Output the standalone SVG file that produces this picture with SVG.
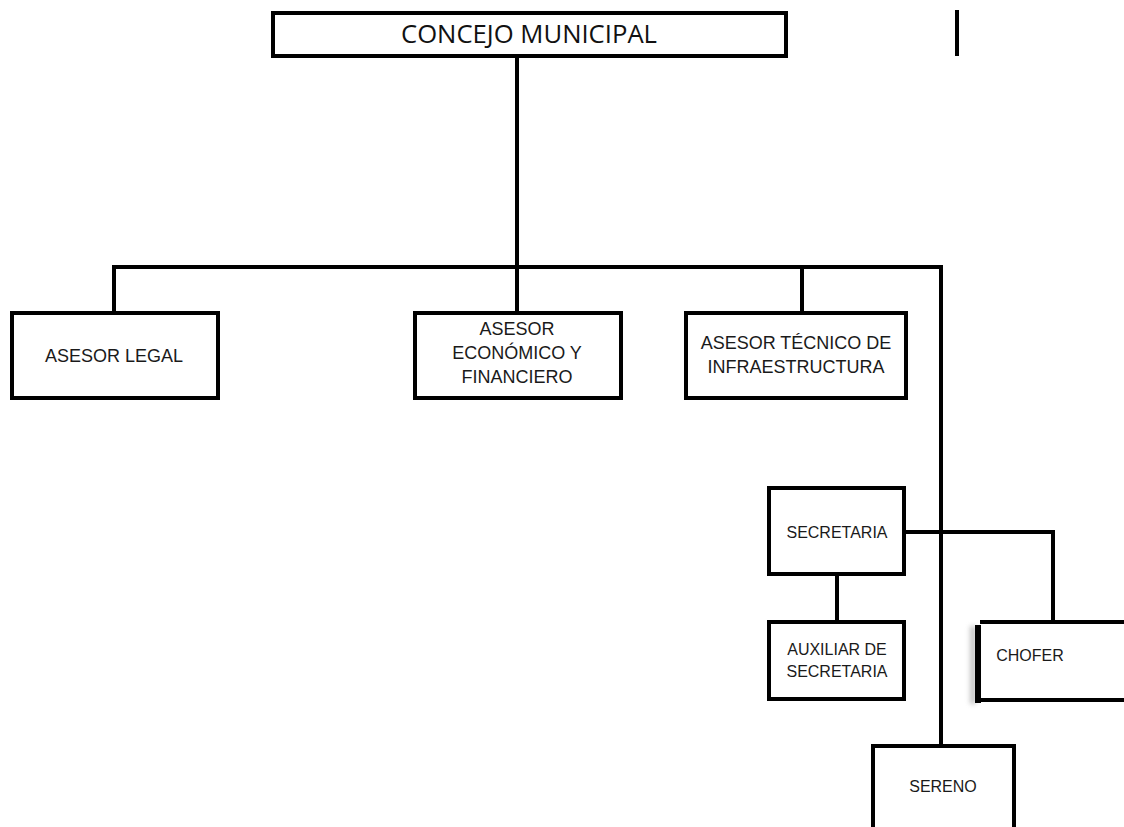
<svg xmlns="http://www.w3.org/2000/svg" width="1124" height="827" viewBox="0 0 1124 827">
  <style>
    .box { fill: #fff; stroke: #000; stroke-width: 4; }
    .wire { fill: none; stroke: #000; stroke-width: 4; }
    .lbl { font-family: "Liberation Sans", Arial, sans-serif; fill: #1a1a1a; text-anchor: middle; }
    .big { font-size: 18px; }
    .small { font-size: 16px; }
    .title { font-family: "Open Sans", "Liberation Sans", sans-serif; font-size: 25px; fill: #111; text-anchor: middle; }
  </style>
  <defs>
    <filter id="soft" x="-200%" y="-20%" width="500%" height="140%">
      <feGaussianBlur stdDeviation="2.5"/>
    </filter>
  </defs>
  <rect width="1124" height="827" fill="#fff"/>

  <!-- connectors -->
  <g id="connectors">
    <path class="wire" d="M517 56 V312"/>
    <path class="wire" d="M114 312 V267 H941 V746"/>
    <path class="wire" d="M802 267 V312"/>
    <path class="wire" d="M905 532 H1053 V620"/>
    <path class="wire" d="M837 575 V622"/>
    <path class="wire" d="M957 10 V56"/>
  </g>

  <g id="concejo">
    <rect class="box" x="273" y="13" width="513" height="43"/>
    <text class="title" x="529" y="43" textLength="256" lengthAdjust="spacingAndGlyphs">CONCEJO MUNICIPAL</text>
  </g>

  <g id="asesor-legal">
    <rect class="box" x="12" y="313" width="206" height="85"/>
    <text class="lbl big" x="114" y="362">ASESOR LEGAL</text>
  </g>

  <g id="asesor-economico">
    <rect class="box" x="415" y="313" width="206" height="85"/>
    <text class="lbl big" x="517" y="335">ASESOR</text>
    <text class="lbl big" x="517" y="359">ECONÓMICO Y</text>
    <text class="lbl big" x="517" y="383">FINANCIERO</text>
  </g>

  <g id="asesor-tecnico">
    <rect class="box" x="686" y="313" width="220" height="85"/>
    <text class="lbl big" x="796" y="349">ASESOR TÉCNICO DE</text>
    <text class="lbl big" x="796" y="373">INFRAESTRUCTURA</text>
  </g>

  <g id="secretaria">
    <rect class="box" x="769" y="488" width="135" height="86"/>
    <text class="lbl small" x="837" y="538">SECRETARIA</text>
  </g>

  <g id="auxiliar">
    <rect class="box" x="769" y="622" width="135" height="77"/>
    <text class="lbl small" x="837" y="655">AUXILIAR DE</text>
    <text class="lbl small" x="837" y="677">SECRETARIA</text>
  </g>

  <g id="chofer">
    <rect x="970" y="626" width="6" height="78" fill="#888" opacity="0.5" filter="url(#soft)"/>
    <path class="wire" d="M980 622 H1124 M980 700 H1124"/>
    <rect x="975" y="625" width="6" height="78" fill="#000"/>
    <text class="lbl small" x="1030" y="661">CHOFER</text>
  </g>

  <g id="sereno">
    <path class="wire" d="M873 827 V746 H1014 V827"/>
    <text class="lbl small" x="943" y="792">SERENO</text>
  </g>
</svg>
